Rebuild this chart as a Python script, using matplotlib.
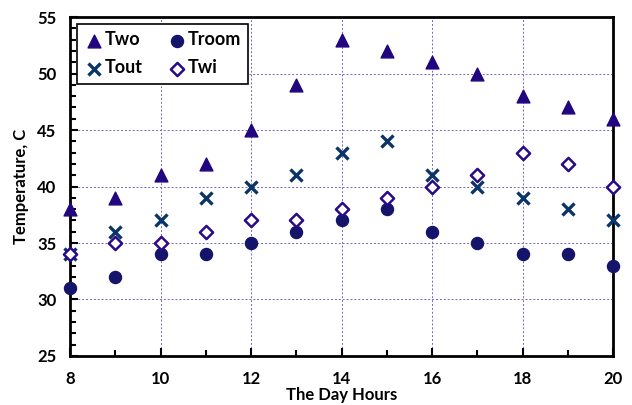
import matplotlib
matplotlib.use('Agg')
import matplotlib.pyplot as plt
from matplotlib.ticker import MultipleLocator

plt.rcParams['font.family'] = ['Lato', 'DejaVu Sans']
plt.rcParams['font.weight'] = 'bold'

hours = [8, 9, 10, 11, 12, 13, 14, 15, 16, 17, 18, 19, 20]
t_wo = [38, 39, 41, 42, 45, 49, 53, 52, 51, 50, 48, 47, 46]
t_room = [31, 32, 34, 34, 35, 36, 37, 38, 36, 35, 34, 34, 33]
t_out = [34, 36, 37, 39, 40, 41, 43, 44, 41, 40, 39, 38, 37]
t_wi = [34, 35, 35, 36, 37, 37, 38, 39, 40, 41, 43, 42, 40]

fig = plt.figure(figsize=(6.32, 4.05), dpi=100)
ax = fig.add_axes([0.111, 0.121, 0.859, 0.837])

h_wo = ax.scatter(hours, t_wo, marker='^', s=85, color='#22067f', label='Two', zorder=3, clip_on=False)
h_room = ax.scatter(hours, t_room, marker='o', s=75, color='#14146b', label='Troom', zorder=3, clip_on=False)
h_out = ax.scatter(hours, t_out, marker='x', s=75, color='#0b3566', linewidths=2.4, label='Tout', zorder=3, clip_on=False)
h_wi = ax.scatter(hours, t_wi, marker='D', s=45, facecolor='white', edgecolor='#2a0a8a', linewidths=1.8,
                  label='Twi', zorder=3, clip_on=False)

ax.set_xlim(8, 20)
ax.set_ylim(25, 55)
ax.xaxis.set_major_locator(MultipleLocator(2))
ax.xaxis.set_minor_locator(MultipleLocator(1))
ax.yaxis.set_major_locator(MultipleLocator(5))
ax.yaxis.set_minor_locator(MultipleLocator(1))

ax.grid(True, which='major', color='#7466c4', linestyle=(0, (2, 2)), linewidth=0.7)
ax.set_axisbelow(True)

for s in ax.spines.values():
    s.set_linewidth(2)
ax.tick_params(which='both', direction='in', width=1.5, labelsize=12)
ax.tick_params(axis='x', pad=11)
ax.tick_params(axis='y', pad=10)
ax.tick_params(which='major', length=6)
ax.tick_params(which='minor', length=4)

ax.set_xlabel('The Day Hours', fontsize=12, fontweight='bold', labelpad=0)
ax.set_ylabel('Temperature, C', fontsize=12, fontweight='bold', labelpad=6)

# legend fills columns first, so order for row-wise look
leg = ax.legend([h_wo, h_out, h_room, h_wi], ['Two', 'Tout', 'Troom', 'Twi'],
                loc='upper left', ncol=2, fontsize=13, frameon=True, fancybox=False,
                edgecolor='black', handletextpad=0.1, columnspacing=1.4, handlelength=1.0,
                borderaxespad=0.4, framealpha=1, labelspacing=0.6)
leg.get_frame().set_linewidth(1.2)

fig.savefig('out.png', dpi=100)
